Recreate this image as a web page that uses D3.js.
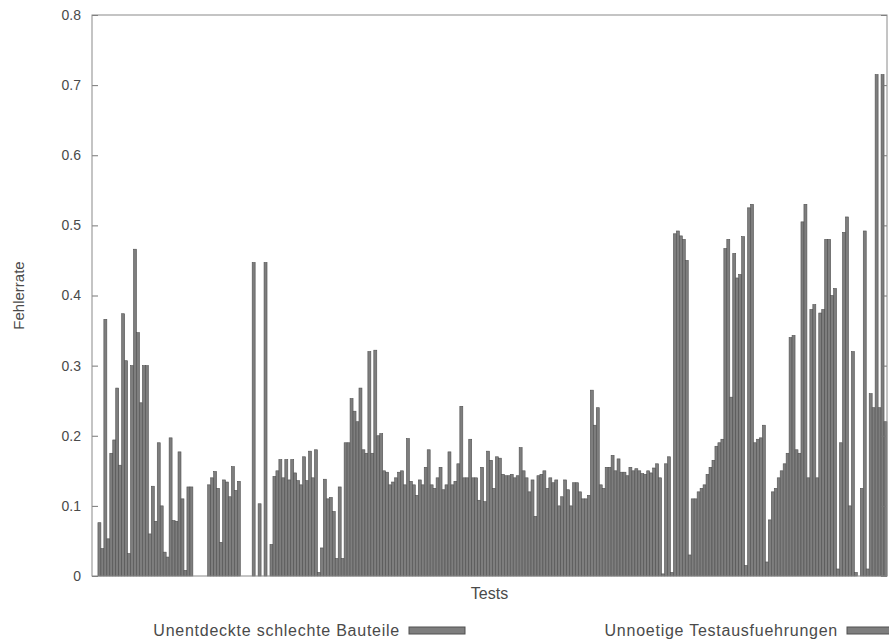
<!DOCTYPE html>
<html>
<head>
<meta charset="utf-8">
<script src="https://cdn.jsdelivr.net/npm/d3@7/dist/d3.min.js"></script>
<style>
  body { margin: 0; background: #fff; }
  text { font-family: "Liberation Sans", Arial, sans-serif; fill: #4a4a4a; }
</style>
</head>
<body>
<div id="canevas"></div>
<script>

////////////////////////////////////////////////////////////////////////////////////////////
//                                        data                                            //
////////////////////////////////////////////////////////////////////////////////////////////

// first bar of each test
let unentdeckt = [
  0, 0.076, 0.366, 0.175, 0.268, 0.374, 0.032, 0.466, 0.247, 0.30, 0.128, 0.19, 0.034, 0.197, 0.078, 0.11, 0.127,
  0, 0, 0, 0.14, 0.125, 0.137, 0.113, 0.122, 0, 0, 0.447, 0.103, 0.447, 0.045,
  0.15, 0.14, 0.137, 0.147, 0.13, 0.136, 0.14, 0.005, 0.138, 0.112, 0.025, 0.025, 0.19, 0.235, 0.268, 0.175, 0.175, 0.2, 0.15, 0.13, 0.14,
  0.15, 0.196, 0.13, 0.137, 0.155, 0.13, 0.14, 0.123, 0.177, 0.135, 0.242, 0.14, 0.14, 0.108, 0.106, 0.165, 0.17, 0.145, 0.143, 0.14, 0.183, 0.14, 0.137, 0.143, 0.15,
  0.14, 0.137, 0.113, 0.123, 0.133, 0.12, 0.11, 0.265, 0.24, 0.125, 0.155, 0.15, 0.148, 0.143, 0.15, 0.15, 0.145, 0.147, 0.16, 0.003, 0.17, 0.488, 0.485, 0.45, 0.11,
  0.12, 0.13, 0.155, 0.185, 0.195, 0.48, 0.46, 0.43, 0.015, 0.53, 0.195, 0.215, 0.08, 0.125, 0.15, 0.175, 0.343, 0.175, 0.53, 0.38, 0.14, 0.38, 0.48, 0.41, 0.19, 0.512, 0.32, 0, 0.492, 0.26, 0.715, 0.715
];

// second bar of each test
let unnoetig = [
  0, 0.039, 0.053, 0.194, 0.158, 0.307, 0.30, 0.347, 0.30, 0.06, 0.078, 0.10, 0.027, 0.079, 0.177, 0.008, 0.127,
  0, 0, 0.13, 0.149, 0.048, 0.134, 0.156, 0.135, 0, 0, 0, 0, 0,
  0.142, 0.166, 0.166, 0.166, 0.136, 0.17, 0.178, 0.18, 0.04, 0.11, 0.092, 0.127, 0.19, 0.253, 0.22, 0.18, 0.32, 0.322, 0.203, 0.148, 0.134,
  0.148, 0.13, 0.135, 0.115, 0.13, 0.18, 0.125, 0.155, 0.13, 0.13, 0.16, 0.14, 0.195, 0.14, 0.155, 0.178, 0.125, 0.168, 0.143, 0.145, 0.143, 0.15, 0.12, 0.085, 0.145,
  0.125, 0.133, 0.1, 0.137, 0.1, 0.133, 0.11, 0.115, 0.215, 0.13, 0.155, 0.172, 0.167, 0.148, 0.155, 0.153, 0.146, 0.15, 0.154, 0.14, 0.16, 0.005, 0.492, 0.48, 0.03,
  0.11, 0.125, 0.145, 0.165, 0.19, 0.467, 0.255, 0.425, 0.484, 0.525, 0.19, 0.197, 0.02, 0.12, 0.14, 0.16, 0.34, 0.18, 0.505, 0.14, 0.387, 0.375, 0.48, 0.4, 0.01, 0.49, 0.1, 0.005, 0.125, 0.01, 0.24, 0.24, 0.22
];

let serien = ["Unentdeckte schlechte Bauteile", "Unnoetige Testausfuehrungen"];
let yTicks = [0, 0.1, 0.2, 0.3, 0.4, 0.5, 0.6, 0.7, 0.8];


////////////////////////////////////////////////////////////////////////////////////////////
//                                        canvas                                          //
////////////////////////////////////////////////////////////////////////////////////////////

let largeur = 889;
let hauteur = 641;
let marge = {haut: 15, droite: 2, bas: 65, gauche: 92};
let lp = largeur - marge.gauche - marge.droite;
let hp = hauteur - marge.haut - marge.bas;

let canevas = d3.select("#canevas")
  .append("svg")
  .attr("width", largeur)
  .attr("height", hauteur);

canevas.append("rect")
  .attr("width", "100%")
  .attr("height", "100%")
  .attr("fill", "#fff");

let plot = canevas.append("g")
  .attr("transform", `translate(${marge.gauche},${marge.haut})`);

// scales
let tests = d3.range(unentdeckt.length);

let echelleX = d3.scaleBand()
  .domain(tests)
  .range([0, lp])
  .padding(0);

let echelleS = d3.scaleBand()
  .domain([0, 1])
  .range([0, echelleX.bandwidth()]);

let echelleY = d3.scaleLinear()
  .domain([0, 0.8])
  .range([hp, 0]);

let barFill = "#7e7e7e";
let barStroke = "#505050";


////////////////////////////////////////////////////////////////////////////////////////////
//                                        bars                                            //
////////////////////////////////////////////////////////////////////////////////////////////

let paires = tests.map(i => [unentdeckt[i], unnoetig[i]]);

let groupes = plot.selectAll("g.test")
  .data(paires)
  .enter()
  .append("g")
    .attr("class", "test")
    .attr("transform", (d, i) => `translate(${echelleX(i)},0)`);

groupes.selectAll("rect")
  .data(d => d.map((v, s) => ({v: v, s: s})))
  .enter()
  .append("rect")
    .attr("x", d => echelleS(d.s))
    .attr("width", echelleS.bandwidth())
    .attr("y", d => echelleY(d.v))
    .attr("height", d => hp - echelleY(d.v))
    .attr("fill", barFill)
    .attr("stroke", barStroke)
    .attr("stroke-width", 0.6);


////////////////////////////////////////////////////////////////////////////////////////////
//                                        axes                                            //
////////////////////////////////////////////////////////////////////////////////////////////

let fmt = d => d === 0 ? "0" : d.toFixed(1);

let axeG = plot.append("g")
  .call(d3.axisLeft(echelleY).tickValues(yTicks).tickFormat(fmt).tickSizeInner(-6).tickSizeOuter(0).tickPadding(11));

let axeD = plot.append("g")
  .attr("transform", `translate(${lp},0)`)
  .call(d3.axisRight(echelleY).tickValues(yTicks).tickFormat("").tickSizeInner(-6).tickSizeOuter(0));

[axeG, axeD].forEach(a => {
  a.select(".domain").remove();
  a.selectAll(".tick line").attr("stroke", "#777");
});
axeG.selectAll(".tick text")
  .style("font-size", "14px")
  .attr("fill", "#4a4a4a");

// frame
plot.append("rect")
  .attr("width", lp)
  .attr("height", hp)
  .attr("fill", "none")
  .attr("stroke", "#8a8a8a")
  .attr("stroke-width", 1);

// axis titles
canevas.append("text")
  .attr("transform", `translate(24,${marge.haut + hp / 2}) rotate(-90)`)
  .attr("text-anchor", "middle")
  .style("font-size", "15px")
  .text("Fehlerrate");

canevas.append("text")
  .attr("x", marge.gauche + lp / 2)
  .attr("y", 599)
  .attr("text-anchor", "middle")
  .style("font-size", "16px")
  .text("Tests");


////////////////////////////////////////////////////////////////////////////////////////////
//                                        legend                                          //
////////////////////////////////////////////////////////////////////////////////////////////

let legendeX = [400, 838];

let legende = canevas.selectAll("g.legende")
  .data(serien)
  .enter()
  .append("g")
    .attr("class", "legende")
    .attr("transform", (d, i) => `translate(${legendeX[i]},636)`);

legende.append("text")
  .attr("text-anchor", "end")
  .style("font-size", "16px")
  .style("letter-spacing", "0.75px")
  .text(d => d);

legende.append("rect")
  .attr("x", 9)
  .attr("y", -9)
  .attr("width", 56)
  .attr("height", 7)
  .attr("fill", barFill)
  .attr("stroke", barStroke)
  .attr("stroke-width", 1);

</script>
</body>
</html>
